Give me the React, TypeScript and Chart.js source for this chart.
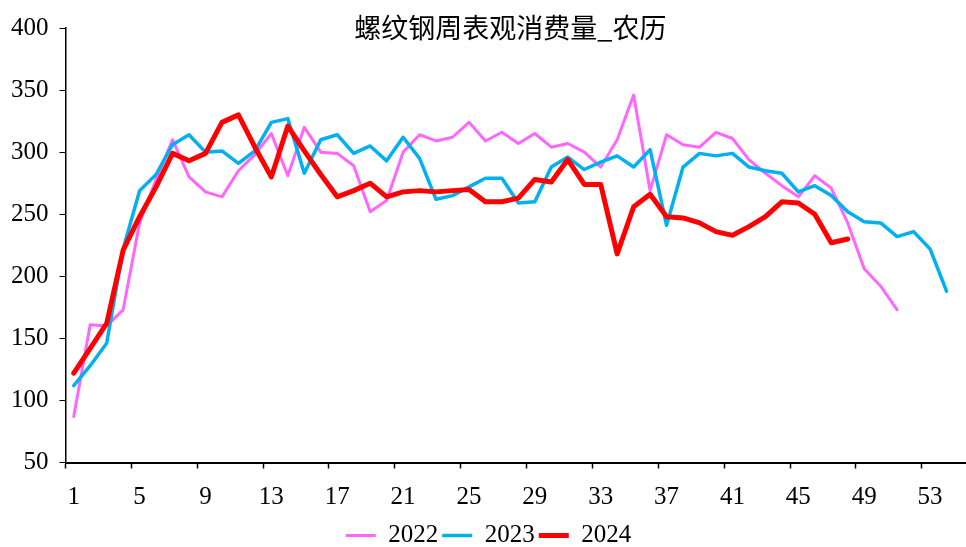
import React, { useEffect, useRef } from 'react';
import { Chart, registerables } from 'chart.js';

Chart.register(...registerables);

const weeks = [
  '1', '2', '3', '4', '5', '6', '7', '8', '9', '10', '11', '12', '13', '14', '15', '16', '17', '18', '19', '20',
  '21', '22', '23', '24', '25', '26', '27', '28', '29', '30', '31', '32', '33', '34', '35', '36', '37', '38', '39', '40',
  '41', '42', '43', '44', '45', '46', '47', '48', '49', '50', '51', '52', '53', '54', '55',
];

const s2022 = [
  87, 161, 160, 173, 243, 278, 310, 280, 268, 264, 285, 298, 315, 281, 320, 300, 299, 289, 252, 261,
  300, 314, 309, 312, 324, 309, 316, 307, 315, 304, 307, 300, 288, 310, 346, 269, 314, 306, 304, 316,
  311, 294, 283, 273, 264, 281, 271, 243, 206, 192, 173,
];

const s2023 = [
  112, 128, 146, 222, 269, 282, 306, 314, 300, 301, 291, 301, 324, 327, 283, 310, 314, 299, 305, 293,
  312, 295, 262, 265, 272, 279, 279, 259, 260, 288, 296, 286, 292, 297, 288, 302, 241, 288, 299, 297,
  299, 288, 285, 283, 268, 273, 265, 252, 244, 243, 232, 236, 222, 188,
];

const s2024 = [
  122, 142, 162, 221, 248, 272, 299, 293, 299, 324, 330, 304, 280, 321, 301, 282, 264, 269, 275, 264,
  268, 269, 268, 269, 270, 260, 260, 263, 278, 276, 294, 274, 274, 218, 256, 266, 248, 247, 243, 236,
  233, 240, 248, 260, 259, 250, 227, 230,
];

const seriesNames = ['2022', '2023', '2024'];
const seriesColors = ['#FF66FF', '#00B0F0', '#FF0000'];
const seriesWidths = [3, 3.5, 5];
const yMin = 50;
const yMax = 400;
const yStep = 50;
const labelEvery = 4;
const chartTitle = '螺纹钢周表观消费量_农历';

export default function App() {
  const ref = useRef<HTMLCanvasElement>(null);

  useEffect(() => {
    if (!ref.current) return;
    const titlePlugin = {
      id: 'topTitle',
      afterDraw(chart: any) {
        const { ctx, chartArea } = chart;
        ctx.save();
        ctx.font = '27px "Noto Sans CJK SC"';
        ctx.fillStyle = '#000';
        ctx.textAlign = 'center';
        ctx.textBaseline = 'middle';
        ctx.fillText(chartTitle, (chartArea.left + chartArea.right) / 2 - 8, chartArea.top);
        ctx.restore();
      },
    };
    const seriesData = [s2022, s2023, s2024];
    const chart = new Chart(ref.current, {
      type: 'line',
      data: {
        labels: weeks,
        datasets: seriesNames.map((name, i) => ({
          label: name,
          data: seriesData[i],
          borderColor: seriesColors[i],
          backgroundColor: seriesColors[i],
          borderWidth: seriesWidths[i],
          pointRadius: 0,
          pointHoverRadius: 0,
          tension: 0,
          fill: false,
          borderJoinStyle: 'round',
          borderCapStyle: 'round',
          order: seriesNames.length - i,
        })),
      },
      options: {
        responsive: false,
        animation: false,
        devicePixelRatio: 1,
        layout: { padding: { left: 0, right: 0, top: 28, bottom: 0 } },
        plugins: {
          title: { display: false },
          tooltip: { enabled: false },
          legend: {
            display: true,
            position: 'bottom',
            labels: {
              usePointStyle: true,
              pointStyle: 'line',
              pointStyleWidth: 30,
              color: '#000',
              padding: 4,
              font: { family: '"Liberation Serif"', size: 25 },
              sort: (a: any, b: any) => a.datasetIndex - b.datasetIndex,
            },
          },
        },
        scales: {
          x: {
            type: 'category',
            offset: true,
            border: { display: true, color: '#000', width: 2 },
            grid: {
              offset: true,
              drawOnChartArea: false,
              drawTicks: true,
              tickLength: 6,
              tickWidth: 1.5,
              color: (ctx: any) => (ctx.index % labelEvery === 0 ? '#000' : 'rgba(0,0,0,0)'),
            },
            ticks: {
              autoSkip: false,
              maxRotation: 0,
              minRotation: 0,
              padding: 14,
              color: '#000',
              font: { family: '"Liberation Serif"', size: 25 },
              callback: (_v: any, idx: number) => (idx % labelEvery === 0 ? weeks[idx] : ''),
            },
            afterFit: (scale: any) => {
              scale.height -= 7.5;
            },
          },
          y: {
            min: yMin,
            max: yMax,
            border: { display: true, color: '#000', width: 1.5 },
            grid: {
              drawOnChartArea: false,
              drawTicks: true,
              tickLength: 6,
              color: '#000',
            },
            ticks: {
              stepSize: yStep,
              padding: 11,
              color: '#000',
              font: { family: '"Liberation Serif"', size: 25 },
            },
          },
        },
      },
      plugins: [titlePlugin],
    } as any);
    return () => chart.destroy();
  }, []);

  return (
    <div style={{ position: 'fixed', left: 0, top: 0, width: 966, height: 547, overflow: 'hidden', background: '#fff' }}>
      <canvas ref={ref} width={977} height={558} style={{ display: 'block', width: 977, height: 558 }} />
    </div>
  );
}
